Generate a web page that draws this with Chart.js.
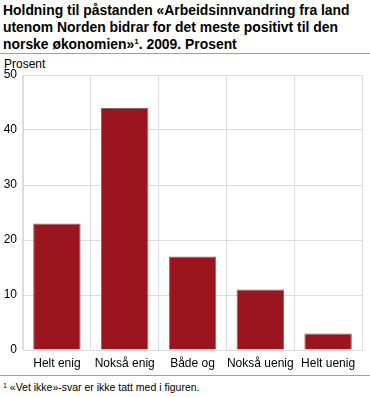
<!DOCTYPE html>
<html>
<head>
<meta charset="utf-8">
<script src="https://cdn.jsdelivr.net/npm/chart.js@4/dist/chart.umd.min.js"></script>
<style>
  html, body { margin: 0; padding: 0; background: #fff; }
  body { width: 370px; height: 397px; position: relative; overflow: hidden; font-family: "Liberation Sans", Arial, sans-serif; }
  #title { position: absolute; left: 3px; top: 2px; width: 366px; font-weight: bold; font-size: 13.9px; line-height: 17px; color: #000; }
  #title sup { font-size: 8px; vertical-align: 5px; line-height: 0; }
  .rule { position: absolute; left: 0; width: 370px; height: 1px; background: #a0a0a0; }
  #unit { position: absolute; left: 4px; top: 57px; font-size: 12px; color: #000; }
  #wrap { position: absolute; left: 0; top: 56px; width: 370px; height: 316px; }
  #note { position: absolute; left: 3px; top: 381px; font-size: 10.5px; color: #000; }
  #note sup { font-size: 7px; vertical-align: 3px; line-height: 0; }
</style>
</head>
<body>
<div id="title">Holdning til påstanden «Arbeidsinnvandring fra land utenom Norden bidrar for det meste positivt til den norske økonomien»<sup>1</sup>. 2009. Prosent</div>
<div class="rule" style="top:53px"></div>
<div id="unit">Prosent</div>
<div id="wrap"><canvas id="c"></canvas></div>
<div class="rule" style="top:375px"></div>
<div id="note"><sup>1</sup> «Vet ikke»-svar er ikke tatt med i figuren.</div>
<script>
var categories = ["Helt enig", "Nokså enig", "Både og", "Nokså uenig", "Helt uenig"];
var values = [23, 44, 17, 11, 3];
var yTicks = [0, 10, 20, 30, 40, 50];

var font = { family: "'Liberation Sans', Arial, sans-serif", size: 12 };

new Chart(document.getElementById("c"), {
    type: "bar",
    data: {
        labels: categories,
        datasets: [{
            data: values,
            backgroundColor: "#9a151e",
            borderColor: "#8c6a6c",
            borderWidth: { top: 1, left: 1, right: 1, bottom: 0 },
            categoryPercentage: 0.7,
            barPercentage: 1.0,
        }],
    },
    options: {
        responsive: true,
        maintainAspectRatio: false,
        animation: false,
        layout: { padding: { top: 19, right: 8, left: 0, bottom: 0 } },
        plugins: { legend: { display: false }, tooltip: { enabled: false } },
        scales: {
            x: {
                offset: true,
                grid: { color: "#dcdcdc", offset: true, drawTicks: false },
                border: { color: "#dcdcdc" },
                ticks: { color: "#000", font: font, padding: 6, maxRotation: 0, autoSkip: false },
                afterFit: function (s) { s.height = 22; },
            },
            y: {
                min: 0,
                max: 50,
                afterBuildTicks: function (s) { s.ticks = yTicks.map(function (v) { return { value: v }; }); },
                grid: { color: "#dcdcdc", drawTicks: false },
                border: { color: "#dcdcdc" },
                ticks: { color: "#000", font: font, padding: 6 },
                afterFit: function (s) { s.width = 23; },
            },
        },
    },
});
</script>
</body>
</html>
